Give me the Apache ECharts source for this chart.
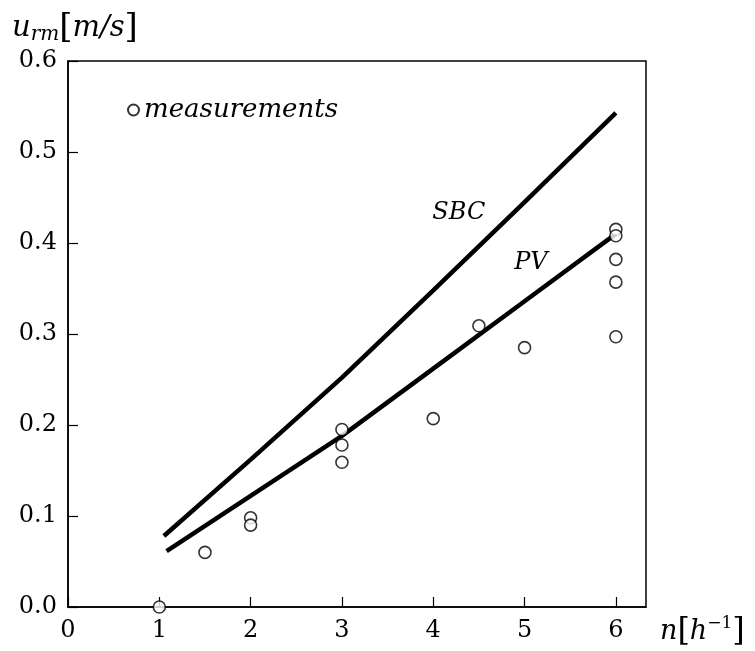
<!DOCTYPE html>
<html>
<head>
<meta charset="utf-8">
<script src="https://cdn.jsdelivr.net/npm/echarts@6/dist/echarts.min.js"></script>
<style>
html, body { margin: 0; padding: 0; background: #fff; }
#chart { width: 755px; height: 651px; }
</style>
</head>
<body>
<div id="chart"></div>
<script>
// measurements
var measX = [1, 1.5, 2, 2, 3, 3, 3, 4, 4.5, 5, 6, 6, 6, 6, 6];
var measY = [0, 0.06, 0.098, 0.09, 0.195, 0.178, 0.159, 0.207, 0.309, 0.285, 0.415, 0.408, 0.382, 0.357, 0.297];
// SBC curve
var sbcX = [1.05, 2, 3, 4, 5, 6];
var sbcY = [0.078, 0.162, 0.252, 0.348, 0.445, 0.543];
// PV curve
var pvX = [1.08, 2, 3, 4, 5, 6];
var pvY = [0.0615, 0.122, 0.188, 0.262, 0.336, 0.410];

var xTicks = [0, 1, 2, 3, 4, 5, 6];
var yTicks = [0, 0.1, 0.2, 0.3, 0.4, 0.5, 0.6];

function pairs(xs, ys) {
	var out = [];
	for (var i = 0; i < xs.length; i++) {
		out.push([xs[i], ys[i]]);
	}
	return out;
}

var font = 'DejaVu Serif';
var myChart = echarts.init(document.getElementById('chart'));
var option = {
	animation: false,
	backgroundColor: '#fff',
	grid: {
		left: 68, right: 109, top: 61, bottom: 44,
		show: true, borderColor: '#000', borderWidth: 1.5
	},
	legend: {
		left: 122, top: 92,
		itemWidth: 11, itemHeight: 11, itemGap: 5,
		data: [{ name: 'measurements', icon: 'circle' }],
		textStyle: { fontFamily: font, fontStyle: 'italic', fontSize: 26, color: '#000' }
	},
	xAxis: {
		type: 'value', min: 0, max: 6.33, interval: 1,
		splitLine: { show: false },
		axisLine: { lineStyle: { color: '#000', width: 1.5 } },
		axisTick: { inside: true, length: 10, lineStyle: { color: '#000', width: 1.2 } },
		axisLabel: {
			showMaxLabel: false, margin: 12,
			fontFamily: font, fontSize: 24, color: '#000',
			formatter: function(v) { return xTicks.indexOf(v) >= 0 ? String(v) : ''; }
		},
		name: '{i|n}{b|[}{i|h}{s|−1}{b|]}',
		nameLocation: 'end', nameGap: 14,
		nameTextStyle: {
			verticalAlign: 'top', padding: [8, 0, 0, 0],
			rich: {
				i: { fontFamily: font, fontStyle: 'italic', fontSize: 27, color: '#000' },
				b: { fontFamily: font, fontSize: 32, color: '#000' },
				s: { fontFamily: font, fontSize: 17, color: '#000', verticalAlign: 'top', padding: [0, 0, 16, 0] }
			}
		}
	},
	yAxis: {
		type: 'value', min: 0, max: 0.6, interval: 0.1,
		splitLine: { show: false },
		axisLine: { lineStyle: { color: '#000', width: 1.5 } },
		axisTick: { inside: true, length: 10, lineStyle: { color: '#000', width: 1.2 } },
		axisLabel: {
			margin: 11, fontFamily: font, fontSize: 24, color: '#000',
			formatter: function(v) { return v.toFixed(1); }
		},
		name: '{i|u}{sub|rm}{b|[}{i|m/s}{b|]}',
		nameLocation: 'end', nameGap: 16,
		nameTextStyle: {
			align: 'left', padding: [0, 0, 0, -56],
			rich: {
				i: { fontFamily: font, fontStyle: 'italic', fontSize: 29, color: '#000' },
				sub: { fontFamily: font, fontStyle: 'italic', fontSize: 20, color: '#000', verticalAlign: 'bottom', padding: [12, 0, 0, 0] },
				b: { fontFamily: font, fontSize: 34, color: '#000' }
			}
		}
	},
	series: [
		{
			name: 'SBC', type: 'line', data: pairs(sbcX, sbcY),
			showSymbol: false, symbol: 'none',
			lineStyle: { color: '#000', width: 4.5 },
			markPoint: {
				symbol: 'rect', symbolSize: 1, itemStyle: { color: 'transparent' },
				label: { show: true, formatter: 'SBC', fontFamily: font, fontStyle: 'italic', fontSize: 24, color: '#000' },
				data: [{ coord: [4.28, 0.433] }]
			}
		},
		{
			name: 'PV', type: 'line', data: pairs(pvX, pvY),
			showSymbol: false, symbol: 'none',
			lineStyle: { color: '#000', width: 4.5 },
			markPoint: {
				symbol: 'rect', symbolSize: 1, itemStyle: { color: 'transparent' },
				label: { show: true, formatter: 'PV', fontFamily: font, fontStyle: 'italic', fontSize: 24, color: '#000' },
				data: [{ coord: [5.07, 0.378] }]
			}
		},
		{
			name: 'measurements', type: 'scatter', data: pairs(measX, measY),
			symbol: 'circle', symbolSize: 12, clip: false, z: 5,
			itemStyle: { color: '#fff', borderColor: '#000', borderWidth: 1.6 }
		}
	]
};
myChart.setOption(option);
</script>
</body>
</html>
